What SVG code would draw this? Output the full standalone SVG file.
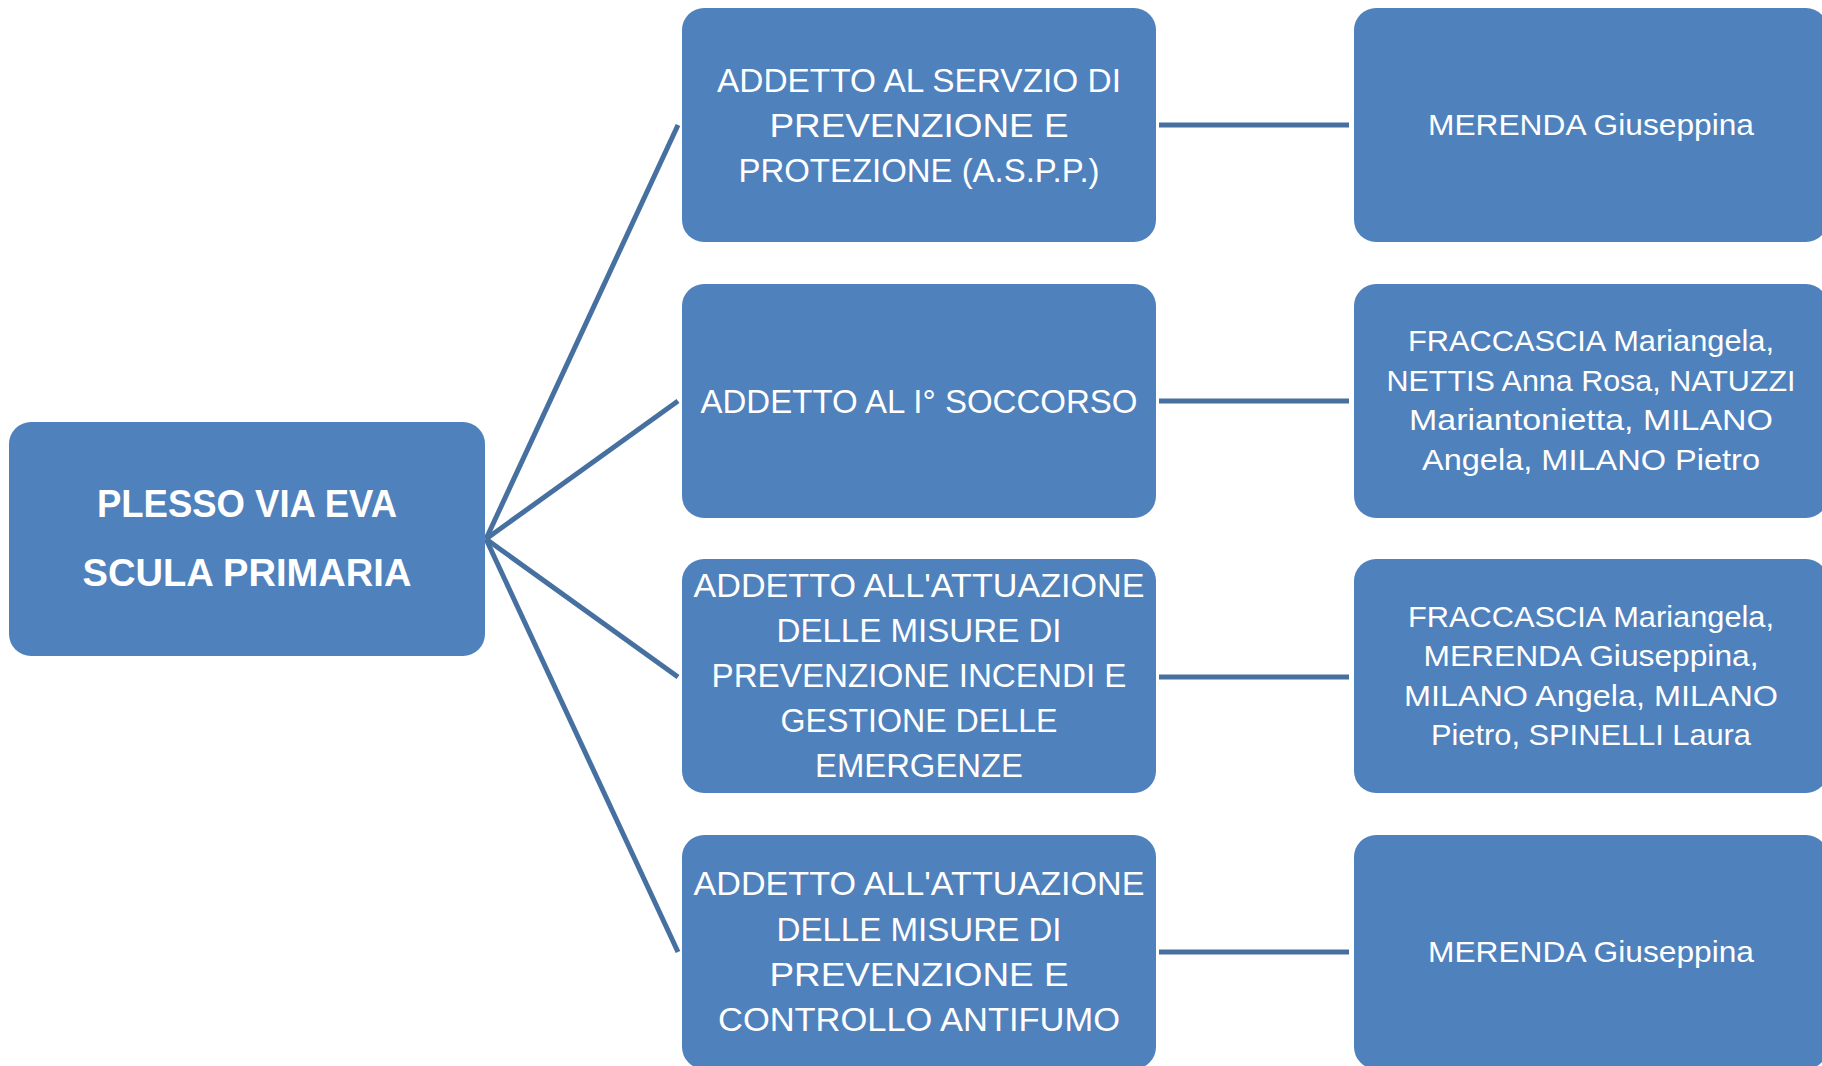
<svg xmlns="http://www.w3.org/2000/svg" width="1822" height="1066" viewBox="0 0 1822 1066">
<style>
.node{fill:#4F81BD;}
.conn{stroke:#46709F;stroke-width:5;fill:none;stroke-linecap:butt;}
.t{fill:#FFFFFF;font-family:"Liberation Sans",Arial,sans-serif;text-anchor:middle;}
.root{font-size:38px;font-weight:bold;}
.mid{font-size:34px;}
.right{font-size:30px;}
</style>
<rect width="1822" height="1066" fill="#FFFFFF"/>
<g id="connectors">
<line class="conn" x1="486" y1="539" x2="678" y2="125"/>
<line class="conn" x1="486" y1="539" x2="678" y2="401"/>
<line class="conn" x1="486" y1="539" x2="678" y2="677"/>
<line class="conn" x1="486" y1="539" x2="678" y2="952"/>
<line class="conn" x1="1159" y1="125" x2="1349" y2="125"/>
<line class="conn" x1="1159" y1="401" x2="1349" y2="401"/>
<line class="conn" x1="1159" y1="677" x2="1349" y2="677"/>
<line class="conn" x1="1159" y1="952" x2="1349" y2="952"/>
</g>
<g id="root">
<rect class="node" x="9" y="422" width="476" height="234" rx="22"/>
<text class="t root" x="247" y="516.5" textLength="300" lengthAdjust="spacingAndGlyphs">PLESSO VIA EVA</text>
<text class="t root" x="247" y="585.5" textLength="329" lengthAdjust="spacingAndGlyphs">SCULA PRIMARIA</text>
</g>
<g id="role1">
<rect class="node" x="682" y="8" width="474" height="234" rx="22"/>
<text class="t mid" x="919" y="92" textLength="404" lengthAdjust="spacingAndGlyphs">ADDETTO AL SERVZIO DI</text>
<text class="t mid" x="919" y="137" textLength="299" lengthAdjust="spacingAndGlyphs">PREVENZIONE E</text>
<text class="t mid" x="919" y="182" textLength="361" lengthAdjust="spacingAndGlyphs">PROTEZIONE (A.S.P.P.)</text>
</g>
<g id="role2">
<rect class="node" x="682" y="284" width="474" height="234" rx="22"/>
<text class="t mid" x="919" y="412.5" textLength="437" lengthAdjust="spacingAndGlyphs">ADDETTO AL I° SOCCORSO</text>
</g>
<g id="role3">
<rect class="node" x="682" y="559" width="474" height="234" rx="22"/>
<text class="t mid" x="919" y="597" textLength="451" lengthAdjust="spacingAndGlyphs">ADDETTO ALL'ATTUAZIONE</text>
<text class="t mid" x="919" y="642" textLength="285" lengthAdjust="spacingAndGlyphs">DELLE MISURE DI</text>
<text class="t mid" x="919" y="687" textLength="415" lengthAdjust="spacingAndGlyphs">PREVENZIONE INCENDI E</text>
<text class="t mid" x="919" y="732" textLength="277" lengthAdjust="spacingAndGlyphs">GESTIONE DELLE</text>
<text class="t mid" x="919" y="777" textLength="208" lengthAdjust="spacingAndGlyphs">EMERGENZE</text>
</g>
<g id="role4">
<rect class="node" x="682" y="835" width="474" height="234" rx="22"/>
<text class="t mid" x="919" y="895" textLength="451" lengthAdjust="spacingAndGlyphs">ADDETTO ALL'ATTUAZIONE</text>
<text class="t mid" x="919" y="940.5" textLength="285" lengthAdjust="spacingAndGlyphs">DELLE MISURE DI</text>
<text class="t mid" x="919" y="986" textLength="299" lengthAdjust="spacingAndGlyphs">PREVENZIONE E</text>
<text class="t mid" x="919" y="1031" textLength="402" lengthAdjust="spacingAndGlyphs">CONTROLLO ANTIFUMO</text>
</g>
<g id="people1">
<rect class="node" x="1354" y="8" width="474" height="234" rx="22"/>
<text class="t right" x="1591" y="134.5" textLength="326" lengthAdjust="spacingAndGlyphs">MERENDA Giuseppina</text>
</g>
<g id="people2">
<rect class="node" x="1354" y="284" width="474" height="234" rx="22"/>
<text class="t right" x="1591" y="351" textLength="366" lengthAdjust="spacingAndGlyphs">FRACCASCIA Mariangela,</text>
<text class="t right" x="1591" y="390.5" textLength="409" lengthAdjust="spacingAndGlyphs">NETTIS Anna Rosa, NATUZZI</text>
<text class="t right" x="1591" y="430" textLength="364" lengthAdjust="spacingAndGlyphs">Mariantonietta, MILANO</text>
<text class="t right" x="1591" y="469.5" textLength="338" lengthAdjust="spacingAndGlyphs">Angela, MILANO Pietro</text>
</g>
<g id="people3">
<rect class="node" x="1354" y="559" width="474" height="234" rx="22"/>
<text class="t right" x="1591" y="626.5" textLength="366" lengthAdjust="spacingAndGlyphs">FRACCASCIA Mariangela,</text>
<text class="t right" x="1591" y="665.5" textLength="335" lengthAdjust="spacingAndGlyphs">MERENDA Giuseppina,</text>
<text class="t right" x="1591" y="705.5" textLength="374" lengthAdjust="spacingAndGlyphs">MILANO Angela, MILANO</text>
<text class="t right" x="1591" y="744.5" textLength="320" lengthAdjust="spacingAndGlyphs">Pietro, SPINELLI Laura</text>
</g>
<g id="people4">
<rect class="node" x="1354" y="835" width="474" height="234" rx="22"/>
<text class="t right" x="1591" y="962" textLength="326" lengthAdjust="spacingAndGlyphs">MERENDA Giuseppina</text>
</g>
</svg>
